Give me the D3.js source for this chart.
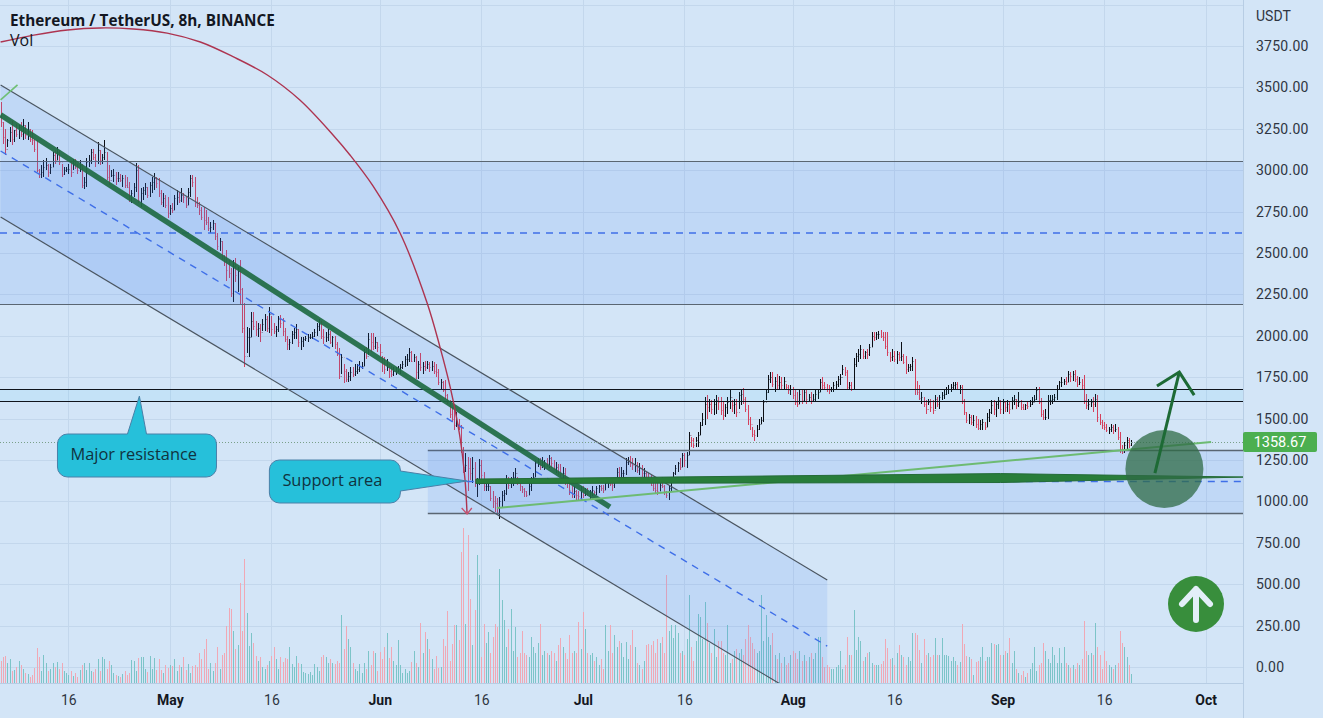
<!DOCTYPE html>
<html>
<head>
<meta charset="utf-8">
<script src="https://cdn.jsdelivr.net/npm/d3@7"></script>
<style>
html,body{margin:0;padding:0;background:#d3e5f7;overflow:hidden}
svg{display:block}
</style>
</head>
<body>
<div id="chart"></div>
<script>
// ---------- DATA (8h bars, Ethereum / TetherUS) ----------
const highs = [
3410,3290,3250,3190,3260,3300,3240,3280,3270,3290,3310,3270,3290,3250,3240,
3190,3183,3010,3030,3060,3075,3040,3040,3110,3120,3140,3120,3040,3020,3020,
3040,3050,3070,3070,3040,3060,3040,2960,3074,3090,3130,3130,3100,3170,3120,
3100,3183,3110,3030,3000,3010,2990,2990,2980,2970,2970,2960,2930,2880,2920,
3044,3030,2890,2900,2920,2900,2930,2960,2984,2960,2950,2880,2860,2850,2840,
2790,2800,2850,2880,2870,2890,2860,2840,2890,2971,2971,2960,2840,2810,2780,
2780,2760,2720,2690,2700,2680,2620,2590,2570,2490,2520,2460,2410,2458,2470,
2416,2458,2289,2198,2053,2047,2144,2144,2090,2080,2070,2100,2130,2120,2174,
2120,2080,2060,2120,2125,2110,2050,2000,1980,2030,2050,2070,2040,1990,1990,
2000,2010,2010,2020,2040,2080,2100,2090,2040,2020,2040,2030,2000,2000,1960,
1925,1890,1830,1800,1780,1810,1810,1830,1830,1850,1840,1920,1930,2017,2015,
2017,1990,1960,1950,1880,1870,1860,1830,1820,1810,1810,1820,1830,1850,1880,
1890,1927,1910,1890,1880,1850,1895,1840,1850,1850,1840,1850,1840,1830,1800,
1740,1730,1733,1650,1610,1570,1552,1540,1500,1462,1330,1290,1270,1260,1270,
1238,1141,1255,1250,1180,1120,1110,1090,1060,1030,1020,1026,1060,1070,1160,
1150,1150,1180,1200,1150,1120,1090,1080,1060,1110,1150,1170,1250,1260,1260,
1270,1250,1265,1280,1270,1250,1235,1225,1225,1210,1200,1150,1120,1090,1090,
1070,1060,1090,1090,1080,1080,1070,1090,1060,1090,1100,1100,1100,1120,1130,
1120,1110,1140,1200,1210,1205,1190,1260,1270,1274,1260,1260,1240,1230,1220,
1200,1180,1170,1160,1120,1110,1110,1120,1150,1100,1060,1100,1147,1180,1220,
1240,1260,1292,1290,1300,1420,1389,1380,1390,1420,1480,1534,1631,1640,1620,
1610,1620,1640,1630,1630,1600,1590,1630,1670,1610,1620,1620,1660,1680,1685,
1630,1580,1510,1450,1430,1462,1500,1510,1613,1680,1764,1782,1780,1752,1770,
1760,1750,1750,1710,1700,1700,1690,1670,1660,1680,1680,1670,1670,1650,1660,
1650,1670,1680,1740,1750,1720,1710,1700,1690,1720,1730,1760,1770,1824,1810,
1794,1720,1720,1866,1896,1920,1945,1920,1910,1920,1950,2023,2020,2025,2030,
2035,2020,2020,2020,1900,1920,1910,1910,1900,1960,1890,1880,1830,1830,1870,
1860,1730,1700,1660,1630,1610,1620,1620,1610,1640,1630,1640,1660,1670,1690,
1700,1710,1720,1721,1720,1700,1700,1620,1540,1530,1520,1520,1515,1500,1490,
1500,1480,1534,1560,1610,1610,1600,1630,1610,1620,1600,1610,1600,1630,1640,
1620,1660,1610,1590,1590,1600,1610,1630,1640,1690,1690,1625,1550,1560,1640,
1640,1640,1650,1700,1730,1750,1740,1750,1790,1780,1790,1795,1760,1750,1740,
1765,1650,1620,1620,1630,1650,1645,1530,1490,1480,1470,1450,1470,1460,1470,
1450,1420,1340,1360,1390,1385,1370
];
const lows = [
3260,3160,3090,3140,3170,3150,3170,3200,3190,3200,3180,3190,3180,3170,3150,
3110,2990,2950,2950,2960,3000,2960,2980,3020,3040,3060,3030,2960,2970,2990,
2980,2960,3000,3010,2980,2990,2890,2887,2900,3020,3040,3060,3020,3040,3030,
3040,3060,2940,2910,2960,2930,2910,2930,2930,2900,2890,2890,2810,2800,2840,
2870,2800,2778,2820,2850,2830,2840,2860,2880,2890,2840,2790,2780,2770,2712,
2730,2740,2760,2790,2800,2810,2800,2770,2790,2840,2900,2780,2770,2730,2700,
2640,2670,2630,2620,2640,2580,2520,2510,2460,2420,2330,2350,2235,2205,2325,
2265,2186,2017,1812,1896,1872,1993,2035,2000,1990,1965,2030,2030,2020,2017,
2000,2010,1990,2020,2050,2000,1960,1915,1915,1950,1980,1980,1930,1915,1930,
1970,1960,1980,1980,1990,2000,2030,1980,1950,1960,1970,1950,1930,1920,1880,
1740,1770,1715,1720,1720,1730,1750,1760,1770,1780,1800,1820,1860,1885,1900,
1915,1920,1900,1880,1780,1770,1790,1745,1750,1760,1765,1780,1770,1800,1810,
1820,1840,1840,1840,1740,1740,1790,1770,1790,1800,1780,1790,1770,1750,1700,
1680,1660,1620,1590,1504,1480,1431,1450,1430,1292,1172,1180,1060,1130,1110,
1087,1026,1100,1130,1060,1060,1060,1000,960,936,925,894,960,1000,1040,
1075,1080,1090,1110,1100,1060,1050,1025,1025,1040,1060,1120,1150,1210,1190,
1200,1190,1210,1200,1200,1190,1170,1160,1150,1140,1100,1080,1040,1020,1020,
1010,1006,1010,1020,1030,1030,1010,1030,1040,1040,1050,1060,1050,1070,1080,
1090,1060,1080,1110,1130,1140,1150,1160,1220,1210,1190,1180,1170,1160,1150,
1140,1130,1110,1090,1060,1050,1040,1060,1080,1040,1020,1010,1060,1110,1160,
1180,1190,1210,1210,1200,1280,1329,1320,1330,1330,1400,1456,1462,1500,1540,
1530,1520,1530,1550,1520,1490,1510,1530,1560,1540,1530,1510,1560,1580,1590,
1540,1460,1430,1390,1365,1389,1430,1470,1480,1613,1655,1715,1690,1661,1680,
1680,1670,1670,1670,1650,1640,1620,1580,1570,1590,1590,1600,1590,1600,1590,
1600,1600,1620,1660,1680,1670,1660,1650,1660,1660,1670,1690,1700,1764,1760,
1679,1670,1665,1680,1810,1840,1860,1860,1860,1860,1880,1930,1970,1975,1980,
1985,1970,1920,1880,1840,1850,1840,1830,1850,1850,1830,1770,1780,1790,1790,
1640,1640,1610,1590,1570,1530,1580,1540,1530,1560,1570,1560,1610,1620,1640,
1650,1660,1670,1680,1670,1650,1590,1522,1474,1470,1460,1455,1445,1431,1430,
1430,1430,1450,1480,1530,1520,1510,1560,1530,1530,1540,1540,1530,1560,1580,
1560,1570,1550,1550,1550,1560,1570,1580,1600,1610,1590,1510,1490,1490,1500,
1580,1590,1600,1610,1670,1690,1700,1700,1720,1720,1730,1720,1690,1700,1670,
1590,1560,1550,1570,1540,1570,1480,1460,1440,1430,1420,1410,1420,1410,1420,
1370,1290,1285,1290,1310,1320,1335
];
const closes = [
3290,3200,3130,3180,3230,3190,3240,3220,3260,3220,3270,3210,3250,3190,3180,
3130,3000,2980,2990,3020,3030,2990,3020,3090,3060,3110,3050,2980,3000,3010,
3010,2990,3040,3020,3000,3030,2910,2930,3050,3060,3110,3080,3060,3120,3060,
3080,3110,2960,2940,2970,2970,2950,2950,2940,2950,2910,2900,2830,2860,2900,
3000,2820,2860,2880,2900,2850,2910,2930,2950,2920,2860,2810,2830,2790,2740,
2770,2760,2830,2840,2820,2850,2840,2790,2870,2950,2930,2800,2790,2760,2720,
2700,2690,2650,2660,2680,2600,2540,2570,2480,2450,2400,2380,2260,2420,2370,
2390,2280,2050,1880,1990,1990,2090,2060,2040,2050,2020,2070,2100,2050,2130,
2040,2030,2040,2100,2080,2030,1980,1950,1960,2010,2020,2040,1960,1970,1980,
1985,1990,1995,2000,2020,2060,2070,2000,1990,1990,2010,1960,1990,1950,1890,
1760,1870,1790,1740,1760,1780,1770,1790,1800,1820,1820,1900,1880,1980,1960,
1940,1960,1930,1900,1830,1800,1810,1790,1770,1790,1790,1800,1810,1830,1860,
1860,1900,1850,1870,1780,1830,1810,1820,1810,1830,1810,1820,1790,1780,1720,
1720,1670,1640,1600,1530,1500,1460,1470,1450,1310,1210,1220,1200,1170,1200,
1110,1120,1220,1160,1090,1090,1090,1020,1000,990,960,1000,1040,1050,1130,
1100,1120,1150,1170,1120,1090,1075,1060,1040,1090,1130,1150,1230,1240,1210,
1220,1240,1230,1260,1230,1200,1210,1180,1170,1170,1120,1110,1070,1050,1060,
1040,1030,1070,1040,1060,1050,1060,1070,1055,1080,1090,1080,1070,1110,1110,
1105,1100,1120,1180,1140,1170,1170,1240,1250,1230,1220,1220,1190,1200,1170,
1170,1140,1130,1100,1080,1070,1060,1100,1090,1060,1040,1080,1120,1170,1200,
1230,1210,1280,1250,1280,1400,1370,1340,1370,1400,1460,1500,1590,1570,1590,
1560,1590,1610,1600,1550,1520,1570,1600,1630,1580,1590,1540,1640,1650,1620,
1560,1500,1470,1410,1400,1440,1470,1490,1600,1660,1740,1750,1710,1730,1700,
1720,1700,1730,1690,1670,1680,1640,1600,1590,1650,1610,1660,1620,1630,1610,
1620,1650,1660,1720,1700,1690,1680,1670,1680,1700,1710,1740,1750,1800,1780,
1690,1700,1680,1830,1880,1890,1920,1880,1900,1890,1930,2000,1990,2010,2010,
2000,1990,1940,1900,1870,1880,1860,1890,1870,1880,1840,1800,1810,1820,1850,
1680,1660,1625,1630,1590,1560,1600,1570,1550,1620,1590,1630,1640,1650,1680,
1680,1690,1700,1710,1680,1690,1610,1540,1490,1510,1480,1490,1470,1445,1470,
1480,1450,1510,1540,1580,1560,1590,1610,1560,1600,1570,1590,1560,1610,1620,
1580,1600,1570,1560,1580,1575,1590,1600,1620,1670,1600,1530,1510,1510,1610,
1610,1620,1630,1680,1720,1720,1730,1720,1770,1760,1770,1740,1710,1720,1700,
1610,1580,1590,1600,1590,1620,1510,1480,1460,1450,1430,1440,1450,1430,1440,
1390,1310,1300,1340,1370,1340,1358.67
];
const volumes = [
22,26,27,20,24,12,13,16,22,18,14,10,9,6,8,
15,35,26,12,28,20,12,14,20,16,21,14,20,12,10,
8,12,7,10,6,13,18,20,13,20,12,11,14,24,12,
26,24,14,22,18,10,8,7,6,9,12,8,10,23,22,
12,25,26,26,14,11,27,14,25,13,24,13,10,18,15,
18,17,24,12,18,16,26,13,19,10,17,18,16,30,24,
34,44,14,20,12,20,36,14,28,30,57,75,74,52,34,
38,100,52,124,70,37,50,40,27,22,26,16,14,18,22,
27,36,24,14,26,21,25,24,36,19,16,27,20,19,11,
10,9,11,8,19,16,12,26,28,26,20,24,20,19,22,
20,68,34,57,44,36,20,14,12,19,10,20,14,32,18,
32,30,12,31,24,36,50,25,36,22,18,43,18,10,14,
10,12,21,32,20,16,60,30,51,44,34,24,14,27,15,
16,44,37,72,22,39,58,58,43,131,155,59,148,84,38,
73,128,108,26,59,40,51,30,46,59,56,114,83,63,36,
54,74,32,56,26,30,52,30,28,26,46,36,30,40,59,
28,32,30,28,32,30,22,38,45,36,30,24,48,30,32,
30,61,34,71,54,30,28,30,22,26,18,24,14,58,32,
58,30,48,36,42,40,26,41,24,38,53,36,20,18,14,
22,38,39,38,42,30,44,40,46,30,108,52,58,45,58,
50,30,32,28,44,88,36,22,42,69,66,44,81,60,40,
30,54,26,42,42,30,28,58,20,24,32,34,30,34,28,
44,58,46,40,34,30,32,88,42,68,46,38,50,28,24,
30,20,26,18,20,28,32,30,24,32,22,28,22,26,30,
24,30,46,46,26,16,18,16,14,14,16,18,32,14,18,
46,28,28,73,33,46,42,22,26,30,31,20,18,18,18,
19,22,44,35,24,25,18,30,38,28,26,18,26,22,50,
50,48,33,20,44,28,30,26,28,45,28,28,45,28,28,
27,22,26,22,18,21,59,39,27,26,24,8,21,22,26,
36,22,26,26,40,39,38,39,28,28,32,30,45,20,32,
14,10,8,12,6,10,14,20,36,12,18,20,40,32,24,
20,36,28,20,35,20,36,20,18,15,18,14,20,18,24,
62,32,28,30,28,60,36,28,14,32,22,18,16,14,18,
20,52,40,36,26,18,9
];
const firstOpen = 3400;
const lastPrice = 1358.67;

const priceTicks = [0,250,500,750,1000,1250,1500,1750,2000,2250,2500,2750,3000,3250,3500,3750];
const timeTickDates = ["2022-04-16","2022-05-01","2022-05-16","2022-06-01","2022-06-16","2022-07-01","2022-07-16","2022-08-01","2022-08-16","2022-09-01","2022-09-16","2022-10-01"];
const timeTickLabels = ["16","May","16","Jun","16","Jul","16","Aug","16","Sep","16","Oct"];

// Drawings, as [days since the first bar, price]
const channelUpper = [[0,3515],[122.1,526]];
const channelMid   = [[0,3116],[122.1,126]];
const channelLower = [[0,2717],[122.1,-273]];
const trendThick   = [[0,3334],[90,966]];
const trendTick    = [[0,3425],[2.5,3515]];
const trendThin    = [[73.3,960],[178.8,1359]];
const supportWedge = [[70.2,1135],[147.7,1168],[183.6,1147],[147.7,1114],[70.2,1108]];
const arcPoints    = [[0,3774],[4.9,3816],[9.9,3847],[14.7,3859],[19.6,3853],[24.6,3828],[29.5,3774],[34.4,3684],[39.4,3575],[44.2,3424],[49.1,3213],[51.6,3092],[55,2905],[59,2621],[63,2198],[64.9,1932],[66.4,1691],[67.8,1401],[68.6,1129],[68.9,924]];
const arcHead      = [[68.1,960],[68.9,924],[69.6,960]];
const arrowShaft   = [[170.5,1171],[174.1,1781]];
const arrowHead    = [[170.8,1697],[174.1,1781],[176.3,1642]];
const bandHigh = {top:3053, bottom:2192, mid:2621};
const bandSupport = {from:63.1, top:1310, bottom:930, mid:1120};
const resistanceLines = [1678,1605];
const circleCentre = [171.9,1196];
const callouts = [
  {text:"Major resistance", left:8.4,  top:1407, tip:[20.5,1636], w:159, side:"top",   a:70, b:89},
  {text:"Support area",     left:39.7, top:1250, tip:[68.9,1123], w:131, side:"right", a:11, b:31}
];

// ---------- LAYOUT ----------
const W = 1323, H = 718, paneR = 1243, paneB = 683;
const bg = "#d3e5f7";
const svg = d3.select("#chart").append("svg").attr("width",W).attr("height",H);
svg.append("rect").attr("width",W).attr("height",H).attr("fill",bg);
svg.append("defs").append("clipPath").attr("id","pane").append("rect").attr("width",paneR).attr("height",paneB);

const t0 = Date.UTC(2022,3,6);
const dayMs = 864e5;
const x = d3.scaleUtc().domain([new Date(t0), new Date(Date.UTC(2022,9,1))]).range([0.6,1205.7]);
const y = d3.scaleLinear().domain([0,3750]).range([667,46]);
const vol = d3.scaleLinear().domain([0,160]).range([paneB,paneB-160]);
const xd = d => x(new Date(t0 + d*dayMs));
const pt = p => [xd(p[0]), y(p[1])];
const line = d3.line().x(d=>xd(d[0])).y(d=>y(d[1]));
const tickDates = timeTickDates.map(s=>new Date(s+"T00:00:00Z"));
const px = v => Math.round(v)+0.5;

// grid
const grid = svg.append("g").attr("stroke","#c3d7ec").attr("stroke-width",1);
[...priceTicks,4000].forEach(v=>grid.append("line").attr("x1",0).attr("x2",paneR).attr("y1",px(y(v))).attr("y2",px(y(v))));
tickDates.forEach(d=>grid.append("line").attr("x1",px(x(d))).attr("x2",px(x(d))).attr("y1",0).attr("y2",paneB));

const pane = svg.append("g").attr("clip-path","url(#pane)");

// volume
const bars = closes.map((c,i)=>{
  const o = i ? closes[i-1] : firstOpen;
  return {i,o,c,h:highs[i],l:lows[i],v:volumes[i],x:px(xd(i/3)),up:c>=o};
});
[true,false].forEach(up=>{
  const p = d3.path();
  bars.filter(b=>b.up===up).forEach(b=>{p.moveTo(b.x,vol(0));p.lineTo(b.x,vol(b.v));});
  pane.append("path").attr("d",p.toString()).attr("fill","none").attr("stroke-width",1).attr("shape-rendering","crispEdges")
    .attr("stroke",up?"#7cc4c8":"#f0a8b5");
});
// price bars: stems, then faint open and close ticks
[true,false].forEach(up=>{
  const stem = d3.path(), tick = d3.path();
  bars.filter(b=>b.up===up).forEach(b=>{
    stem.moveTo(b.x,y(b.h));stem.lineTo(b.x,y(b.l));
    tick.moveTo(b.x-1,px(y(b.o)));tick.lineTo(b.x,px(y(b.o)));
    tick.moveTo(b.x,px(y(b.c)));tick.lineTo(b.x+1,px(y(b.c)));
  });
  const col = up?"#0b0e14":"#d4405c";
  pane.append("path").attr("d",tick.toString()).attr("fill","none").attr("stroke-width",1).attr("stroke-opacity",.35).attr("shape-rendering","crispEdges").attr("stroke",col);
  pane.append("path").attr("d",stem.toString()).attr("fill","none").attr("stroke-width",1).attr("shape-rendering","crispEdges").attr("stroke",col);
});

// upper band
const lineCol = "#5a6672", blueFill = "rgba(60,120,240,0.12)", dashCol = "#3f6fe8";
pane.append("rect").attr("x",0).attr("width",paneR).attr("y",y(bandHigh.top)).attr("height",y(bandHigh.bottom)-y(bandHigh.top)).attr("fill",blueFill);
[bandHigh.top,bandHigh.bottom].forEach(v=>pane.append("line").attr("x1",0).attr("x2",paneR).attr("y1",px(y(v))).attr("y2",px(y(v))).attr("stroke",lineCol).attr("stroke-width",1));
pane.append("line").attr("x1",0).attr("x2",paneR).attr("y1",y(bandHigh.mid)).attr("y2",y(bandHigh.mid)).attr("stroke",dashCol).attr("stroke-width",1.4).attr("stroke-dasharray","7 6");

// resistance band
pane.append("rect").attr("x",0).attr("width",paneR).attr("y",y(resistanceLines[0])).attr("height",y(resistanceLines[1])-y(resistanceLines[0])).attr("fill","rgba(0,200,255,0.07)");
resistanceLines.forEach(v=>pane.append("line").attr("x1",0).attr("x2",paneR).attr("y1",px(y(v))).attr("y2",px(y(v))).attr("stroke","#10141c").attr("stroke-width",1));

// support box
pane.append("rect").attr("x",xd(bandSupport.from)).attr("width",paneR-xd(bandSupport.from)).attr("y",y(bandSupport.top)).attr("height",y(bandSupport.bottom)-y(bandSupport.top)).attr("fill",blueFill);
[bandSupport.top,bandSupport.bottom].forEach(v=>pane.append("line").attr("x1",xd(bandSupport.from)).attr("x2",paneR).attr("y1",px(y(v))).attr("y2",px(y(v))).attr("stroke",lineCol).attr("stroke-width",1.4));
pane.append("line").attr("x1",xd(bandSupport.from)).attr("x2",paneR).attr("y1",y(bandSupport.mid)).attr("y2",y(bandSupport.mid)).attr("stroke",dashCol).attr("stroke-width",1.4).attr("stroke-dasharray","7 6");

// channel
const chanPoly = [...channelUpper,channelLower[1],channelLower[0]];
pane.append("path").attr("d",d3.line()(chanPoly.map(pt))+"Z").attr("fill",blueFill);
[channelUpper,channelLower].forEach(l=>pane.append("path").attr("d",line(l)).attr("fill","none").attr("stroke","#4a5560").attr("stroke-width",1.2));
pane.append("path").attr("d",line(channelMid)).attr("fill","none").attr("stroke",dashCol).attr("stroke-width",1.4).attr("stroke-dasharray","7 6");

// last price dotted line
pane.append("line").attr("x1",0).attr("x2",paneR).attr("y1",px(y(lastPrice))).attr("y2",px(y(lastPrice))).attr("stroke","#7aa08a").attr("stroke-dasharray","1 2");

// green drawings
pane.append("path").attr("d",line(trendThick)).attr("fill","none").attr("stroke","#1f6b43").attr("stroke-opacity",.92).attr("stroke-width",5.5);
pane.append("path").attr("d",line(trendTick)).attr("fill","none").attr("stroke","#6fbf73").attr("stroke-width",1.6);
pane.append("path").attr("d",line(trendThin)).attr("fill","none").attr("stroke","#6dbb72").attr("stroke-width",2);
pane.append("path").attr("d",d3.line()(supportWedge.map(pt))+"Z").attr("fill","#287d3a").attr("stroke","#246b38").attr("stroke-width",1);
pane.append("circle").attr("cx",xd(circleCentre[0])).attr("cy",y(circleCentre[1])).attr("r",39).attr("fill","#2f6b45").attr("fill-opacity",.75);
pane.append("path").attr("d",line(arrowShaft)).attr("fill","none").attr("stroke","#1d6a35").attr("stroke-width",3);
pane.append("path").attr("d",line(arrowHead)).attr("fill","none").attr("stroke","#1d6a35").attr("stroke-width",3);

// red arc
pane.append("path").attr("d",line.curve(d3.curveCatmullRom)(arcPoints)).attr("fill","none").attr("stroke","#ad3450").attr("stroke-width",1.4);
line.curve(d3.curveLinear);
pane.append("path").attr("d",line(arcHead)).attr("fill","none").attr("stroke","#c9506e").attr("stroke-width",1.3);

// callouts
callouts.forEach(c=>{
  const L = xd(c.left), T = y(c.top), w = c.w, h = 43, r = 10, [tx,ty] = pt(c.tip);
  const p = d3.path();
  p.moveTo(L+r,T);
  if(c.side==="top"){p.lineTo(L+c.a,T);p.lineTo(tx,ty);p.lineTo(L+c.b,T);}
  p.lineTo(L+w-r,T);p.arcTo(L+w,T,L+w,T+r,r);
  if(c.side==="right"){p.lineTo(L+w,T+c.a);p.lineTo(tx,ty);p.lineTo(L+w,T+c.b);}
  p.lineTo(L+w,T+h-r);p.arcTo(L+w,T+h,L+w-r,T+h,r);
  p.lineTo(L+r,T+h);p.arcTo(L,T+h,L,T+h-r,r);
  p.lineTo(L,T+r);p.arcTo(L,T,L+r,T,r);p.closePath();
  svg.append("path").attr("d",p.toString()).attr("fill","#26c0da").attr("stroke","#4a80a8").attr("stroke-width",1);
  svg.append("text").attr("x",L+13).attr("y",T+26).attr("font-family","'Open Sans',sans-serif").attr("font-size",16.4).attr("fill","#10333f").text(c.text);
});

// badge
const badge = svg.append("g");
badge.append("circle").attr("cx",1196).attr("cy",604).attr("r",28).attr("fill","#388e3c");
badge.append("path").attr("d","M1196 620V589M1182 604L1196 589L1210 604").attr("fill","none").attr("stroke","#e3eff8").attr("stroke-width",6).attr("stroke-linecap","round").attr("stroke-linejoin","round");

// axes frame
svg.append("line").attr("x1",px(paneR)).attr("x2",px(paneR)).attr("y1",0).attr("y2",H).attr("stroke","#b7cde4");
svg.append("line").attr("x1",0).attr("x2",paneR).attr("y1",px(paneB)).attr("y2",px(paneB)).attr("stroke","#b7cde4");

// price axis
const axY = svg.append("g").attr("transform",`translate(${paneR},0)`)
  .call(d3.axisRight(y).tickValues(priceTicks).tickSize(0).tickPadding(13).tickFormat(d=>d.toFixed(2)));
axY.select(".domain").remove();
axY.selectAll("text").attr("font-family","Roboto,sans-serif").attr("font-size",14).attr("letter-spacing",".25px").attr("fill","#2f3542");
svg.append("text").attr("x",1256).attr("y",21).attr("font-family","Roboto,sans-serif").attr("font-size",14).attr("fill","#2f3542").text("USDT");

// time axis
const axX = svg.append("g").attr("transform",`translate(0,${paneB})`)
  .call(d3.axisBottom(x).tickValues(tickDates).tickSize(0).tickPadding(12).tickFormat((d,i)=>timeTickLabels[i]));
axX.select(".domain").remove();
axX.selectAll("text").attr("font-family","Roboto,sans-serif").attr("font-size",14)
  .attr("font-weight",(d,i)=>timeTickLabels[i]==="16"?400:700)
  .attr("fill",(d,i)=>timeTickLabels[i]==="16"?"#2f3542":"#131722");

// last price label
svg.append("rect").attr("x",paneR).attr("y",y(lastPrice)-10).attr("width",74).attr("height",20).attr("rx",2).attr("fill","#4caf50");
svg.append("text").attr("x",paneR+37).attr("y",y(lastPrice)+5).attr("text-anchor","middle").attr("font-family","Roboto,sans-serif").attr("font-size",14.5).attr("fill","#fff").text(lastPrice.toFixed(2));

// titles
svg.append("text").attr("x",10).attr("y",26).attr("font-family","'Open Sans',sans-serif").attr("font-weight",700).attr("font-size",15.3).attr("fill","#131722").text("Ethereum / TetherUS, 8h, BINANCE");
svg.append("text").attr("x",10).attr("y",46).attr("font-family","'Open Sans',sans-serif").attr("font-size",16).attr("fill","#131722").text("Vol");
</script>
</body>
</html>
